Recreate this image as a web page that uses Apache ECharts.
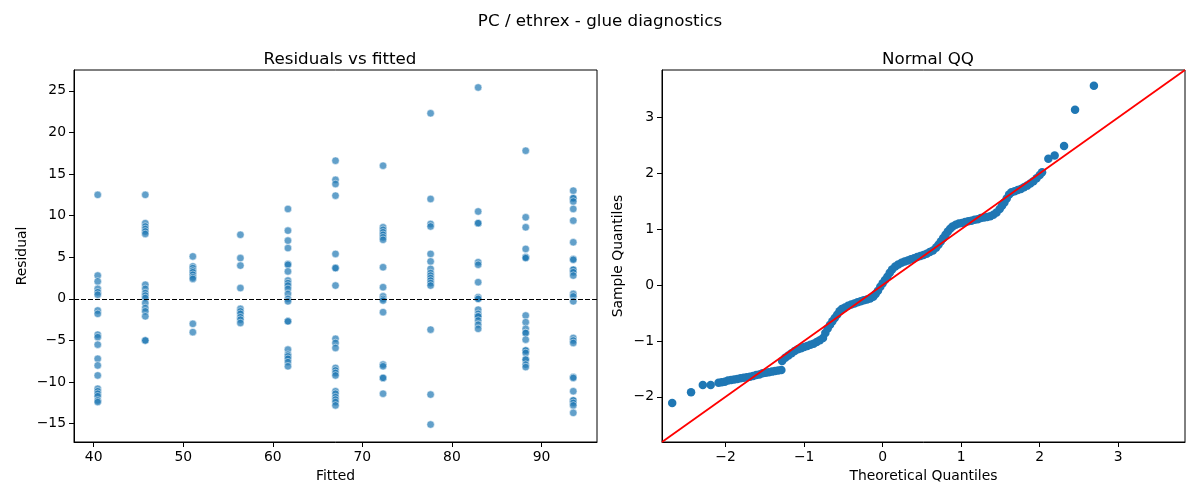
<!DOCTYPE html>
<html>
<head>
<meta charset="utf-8">
<title>PC / ethrex - glue diagnostics</title>
<script src="https://cdn.jsdelivr.net/npm/echarts@6/dist/echarts.min.js"></script>
<style>
  html, body { margin: 0; padding: 0; background: #fff; }
  #chart { width: 1200px; height: 500px; }
</style>
</head>
<body>
<div id="chart"></div>
<script>
// fitted values (one column of points each)
const fittedLevels = [40.45, 45.76, 51.07, 56.38, 61.69, 67.0, 72.31, 77.62, 82.93, 88.24, 93.55];

// residuals read per fitted column
const residualGroups = [
  [12.5, 2.8, 2.1, 1.2, 0.8, 0.5, -1.4, -1.8, -4.3, -4.6, -5.5, -7.2, -8.0, -9.2, -10.8, -11.1, -11.4, -11.7, -12.2, -12.4],
  [12.5, 9.1, 8.7, 8.4, 8.1, 7.8, 1.7, 1.2, 0.7, 0.4, 0.1, -0.5, -1.1, -1.5, -2.1, -5.0, -5.0],
  [5.1, 3.9, 3.7, 3.4, 3.2, 2.9, 2.6, 2.4, -3.0, -4.0],
  [7.7, 4.9, 4.0, 1.3, -1.2, -1.5, -1.8, -2.2, -2.5, -2.9],
  [10.8, 8.2, 7.0, 6.1, 4.2, 4.1, 3.3, 2.2, 1.9, 1.6, 1.2, 0.6, 0.0, -0.3, -2.7, -2.7, -6.1, -6.7, -6.9, -7.2, -7.6, -8.1],
  [16.6, 14.3, 13.8, 12.4, 5.4, 3.7, 3.7, 1.6, -4.8, -5.3, -5.9, -8.3, -8.6, -8.9, -9.2, -11.1, -11.4, -11.8, -12.1, -12.4, -12.8],
  [16.0, 8.6, 8.3, 8.0, 7.7, 7.4, 7.1, 3.8, 1.4, 0.3, 0.0, -0.2, -1.6, -7.9, -8.1, -9.5, -9.5, -11.4],
  [22.3, 12.0, 9.0, 8.7, 5.4, 4.5, 3.6, 3.1, 2.8, 2.5, 2.2, 1.9, 1.6, -3.7, -11.5, -15.1],
  [25.4, 10.5, 9.1, 9.1, 4.4, 4.1, 2.0, 0.2, 0.0, 0.0, -1.3, -1.8, -2.1, -2.1, -2.6, -3.1, -3.6],
  [17.8, 9.8, 8.6, 6.0, 5.0, 5.0, 4.9, -2.0, -2.8, -3.6, -4.1, -4.1, -4.9, -6.2, -6.2, -6.5, -7.3, -7.3, -7.9, -8.2],
  [13.0, 12.1, 12.1, 11.7, 10.8, 9.4, 6.8, 4.8, 4.7, 3.5, 3.5, 3.2, 2.8, 0.6, 0.3, -0.3, -4.7, -5.0, -5.3, -9.4, -9.5, -11.1, -12.2, -12.2, -12.5, -12.8, -13.7]
];

// normal QQ points
const qqTheoretical = [
  -2.68, -2.44, -2.29, -2.19,
  -2.09, -2.05, -2.01, -1.97, -1.93, -1.89, -1.85, -1.81, -1.77, -1.73, -1.69, -1.65, -1.61, -1.57, -1.53, -1.49, -1.45, -1.41, -1.37, -1.33, -1.29,
  -1.28, -1.24, -1.20, -1.16, -1.12, -1.08, -1.04, -1.00, -0.96, -0.92, -0.88, -0.84, -0.80, -0.76, -0.73, -0.70, -0.67, -0.64, -0.61, -0.58, -0.55, -0.52,
  -0.48, -0.44, -0.40, -0.36, -0.32, -0.28, -0.24, -0.20, -0.16, -0.12, -0.09, -0.06, -0.03, 0.00, 0.03, 0.06, 0.09, 0.12,
  0.16, 0.20, 0.24, 0.28, 0.32, 0.36, 0.40, 0.44, 0.48, 0.52, 0.56, 0.60, 0.64, 0.68, 0.71, 0.74, 0.77, 0.80, 0.83, 0.86, 0.89,
  0.93, 0.97, 1.01, 1.05, 1.09, 1.13, 1.17, 1.21, 1.25, 1.29, 1.33, 1.37, 1.41, 1.45, 1.49, 1.52, 1.55, 1.58, 1.61, 1.64,
  1.68, 1.72, 1.76, 1.80, 1.84, 1.88, 1.92, 1.96, 2.00, 2.03,
  2.11, 2.19, 2.31, 2.45, 2.69
];
const qqSample = [
  -2.11, -1.92, -1.79, -1.79,
  -1.75, -1.74, -1.73, -1.71, -1.70, -1.69, -1.68, -1.67, -1.66, -1.65, -1.64, -1.63, -1.61, -1.60, -1.58, -1.57, -1.56, -1.55, -1.54, -1.53, -1.52,
  -1.36, -1.30, -1.26, -1.22, -1.18, -1.15, -1.13, -1.11, -1.09, -1.07, -1.05, -1.02, -0.99, -0.95, -0.86, -0.78, -0.71, -0.65, -0.59, -0.53, -0.47, -0.43,
  -0.40, -0.37, -0.35, -0.33, -0.31, -0.29, -0.27, -0.26, -0.24, -0.21, -0.16, -0.10, -0.03, 0.03, 0.09, 0.15, 0.22, 0.28,
  0.33, 0.37, 0.40, 0.42, 0.44, 0.46, 0.48, 0.50, 0.52, 0.54, 0.56, 0.59, 0.62, 0.67, 0.72, 0.78, 0.84, 0.90, 0.96, 1.01, 1.05,
  1.08, 1.10, 1.11, 1.13, 1.14, 1.15, 1.17, 1.18, 1.20, 1.21, 1.22, 1.23, 1.26, 1.30, 1.36, 1.42, 1.48, 1.55, 1.62, 1.66,
  1.68, 1.70, 1.72, 1.75, 1.78, 1.82, 1.86, 1.91, 1.97, 2.02,
  2.26, 2.32, 2.49, 3.14, 3.57
];

// axis limits and tick labels
const residRange = [-17.2, 27.5];
const fittedRange = [37.8, 96.2];
const qqRange = [-2.81, 3.85];
const residTicks = [-15, -10, -5, 0, 5, 10, 15, 20, 25];
const fittedTicks = [40, 50, 60, 70, 80, 90];
const qqTicks = [-2, -1, 0, 1, 2, 3];

const residPoints = [];
residualGroups.forEach(function (group, i) {
  group.forEach(function (r) { residPoints.push([fittedLevels[i], r]); });
});
const qqPoints = qqTheoretical.map(function (t, i) { return [t, qqSample[i]]; });

const FONT = 'DejaVu Sans';
const minus = function (v) { return String(v).replace('-', '\u2212'); };

function valueAxis(range, ticks, name, gridIndex, gap) {
  return {
    type: 'value',
    gridIndex: gridIndex,
    min: range[0],
    max: range[1],
    name: name,
    nameLocation: 'middle',
    nameGap: gap,
    nameTextStyle: { fontFamily: FONT, fontSize: 13.9, color: '#000' },
    axisLine: { show: true, onZero: false, lineStyle: { color: '#000', width: 1 } },
    axisTick: { show: true, length: 5, customValues: ticks, lineStyle: { color: '#000', width: 1 } },
    axisLabel: { customValues: ticks, formatter: minus, fontFamily: FONT, fontSize: 13.9, color: '#000', margin: 8 },
    splitLine: { show: false }
  };
}

const titleStyle = { fontFamily: FONT, fontSize: 16.7, fontWeight: 'normal', color: '#000' };

const chart = echarts.init(document.getElementById('chart'));
chart.setOption({
  animation: false,
  backgroundColor: '#fff',
  title: [
    { text: 'PC / ethrex - glue diagnostics', left: 'center', top: 8, textStyle: titleStyle },
    { text: 'Residuals vs fitted', left: 335, top: 46, textAlign: 'center', textStyle: titleStyle },
    { text: 'Normal QQ', left: 923, top: 46, textAlign: 'center', textStyle: titleStyle }
  ],
  grid: [
    { left: 74, top: 70, width: 523, height: 372, show: true, borderColor: '#000', borderWidth: 1 },
    { left: 662, top: 70, width: 523, height: 372, show: true, borderColor: '#000', borderWidth: 1 }
  ],
  xAxis: [
    valueAxis(fittedRange, fittedTicks, 'Fitted', 0, 27),
    valueAxis(qqRange, qqTicks, 'Theoretical Quantiles', 1, 27)
  ],
  yAxis: [
    valueAxis(residRange, residTicks, 'Residual', 0, 45),
    valueAxis(qqRange, qqTicks, 'Sample Quantiles', 1, 37)
  ],
  series: [
    {
      type: 'scatter',
      xAxisIndex: 0,
      yAxisIndex: 0,
      data: residPoints,
      symbolSize: 7.5,
      itemStyle: { color: '#1f77b4', opacity: 0.7, borderColor: '#fff', borderWidth: 0.7 },
      markLine: {
        silent: true,
        symbol: 'none',
        label: { show: false },
        lineStyle: { color: '#000', type: [5, 2], width: 1 },
        data: [{ yAxis: 0 }]
      }
    },
    {
      type: 'scatter',
      xAxisIndex: 1,
      yAxisIndex: 1,
      data: qqPoints,
      symbolSize: 8.5,
      itemStyle: { color: '#1f77b4', opacity: 1 }
    },
    {
      type: 'line',
      xAxisIndex: 1,
      yAxisIndex: 1,
      data: [[qqRange[0], qqRange[0]], [qqRange[1], qqRange[1]]],
      symbol: 'none',
      lineStyle: { color: '#ff0000', width: 1.8 },
      z: 3
    }
  ]
});
</script>
</body>
</html>
